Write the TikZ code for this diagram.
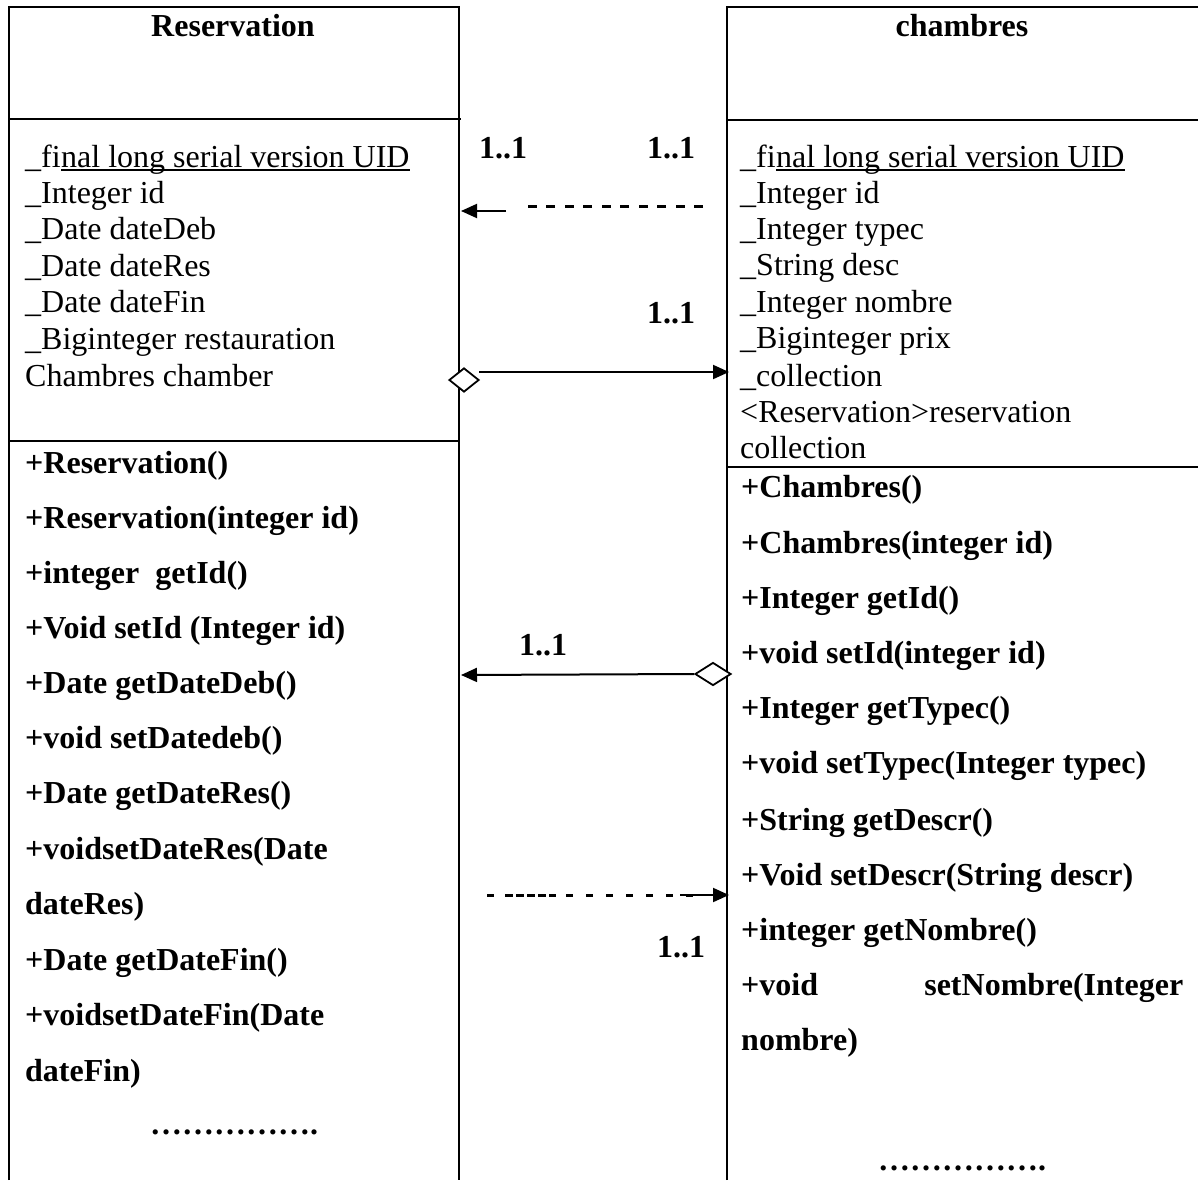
\documentclass[tikz,border=0pt]{standalone}
\usepackage{fontspec}
\setmainfont{Liberation Serif}
\usetikzlibrary{arrows.meta,shapes.geometric}
\begin{document}
\begin{tikzpicture}[x=1pt,y=-1pt,
  txt/.style={inner sep=0pt, anchor=base west, font=\fontsize{32}{37}\selectfont},
  btxt/.style={inner sep=0pt, anchor=base west, font=\fontsize{32}{37}\selectfont\bfseries},
  ttl/.style={inner sep=0pt, anchor=base, font=\fontsize{32}{37}\selectfont\bfseries},
  border/.style={line width=2pt},
  conn/.style={line width=2pt},
  dsh/.style={line width=3pt},
  tipL/.style={-{Triangle[length=16pt,width=14pt]}},
  agg/.style={diamond, draw, line width=1.8pt, fill=white, inner sep=0pt}
]
\useasboundingbox (0,0) rectangle (1198,1180);

% class boxes
\draw[border] (9,1180) -- (9,7) -- (459,7) -- (459,1180);
\draw[border] (9,119) -- (461,119);
\draw[border] (9,441) -- (459,441);
\draw[border] (727,1180) -- (727,7) -- (1198,7);
\draw[border] (727,120) -- (1198,120);
\draw[border] (727,467) -- (1198,467);

% titles
\node[ttl] (rtitle) at (233,37) {Reservation};
\node[ttl] (ctitle) at (962,37) {chambres};

% Reservation attributes
\node[txt] (ra1a) at (25,167) {\_fi};
\node[txt] (ra1b) at (ra1a.base east) {nal long serial version UID};
\draw[line width=1.6pt] ([yshift=-3pt]ra1b.base west) -- ([yshift=-3pt]ra1b.base east);
\node[txt] (ra2) at (25,203) {\_Integer id};
\node[txt] (ra3) at (25,239.5) {\_Date dateDeb};
\node[txt] (ra4) at (25,276) {\_Date dateRes};
\node[txt] (ra5) at (25,312.5) {\_Date dateFin};
\node[txt] (ra6) at (25,349) {\_Biginteger restauration};
\node[txt] (ra7) at (25,386) {Chambres chamber};

% Reservation methods
\node[btxt] (rm1) at (25,473) {+Reservation()};
\node[btxt] (rm2) at (25,528) {+Reservation(integer id)};
\node[btxt] (rm3) at (25,583) {+integer\ \ getId()};
\node[btxt] (rm4) at (25,638) {+Void setId (Integer id)};
\node[btxt] (rm5) at (25,693) {+Date getDateDeb()};
\node[btxt] (rm6) at (25,748) {+void setDatedeb()};
\node[btxt] (rm7) at (25,803) {+Date getDateRes()};
\node[btxt] (rm8) at (25,859) {+voidsetDateRes(Date};
\node[btxt] (rm9) at (25,914) {dateRes)};
\node[btxt] (rm10) at (25,970) {+Date getDateFin()};
\node[btxt] (rm11) at (25,1025) {+voidsetDateFin(Date};
\node[btxt] (rm12) at (25,1081) {dateFin)};
\node[ttl] (rdots) at (234,1134) {……………\kern0pt.};

% chambres attributes
\node[txt] (ca1a) at (740,167) {\_fi};
\node[txt] (ca1b) at (ca1a.base east) {nal long serial version UID};
\draw[line width=1.6pt] ([yshift=-3pt]ca1b.base west) -- ([yshift=-3pt]ca1b.base east);
\node[txt] (ca2) at (740,203) {\_Integer id};
\node[txt] (ca3) at (740,239) {\_Integer typec};
\node[txt] (ca4) at (740,275.5) {\_String desc};
\node[txt] (ca5) at (740,312) {\_Integer nombre};
\node[txt] (ca6) at (740,348.5) {\_Biginteger prix};
\node[txt] (ca7) at (740,386) {\_collection};
\node[txt] (ca8) at (740,422) {<Reservation>reservation};
\node[txt] (ca9) at (740,458) {collection};

% chambres methods
\node[btxt] (cm1) at (741,497) {+Chambres()};
\node[btxt] (cm2) at (741,553) {+Chambres(integer id)};
\node[btxt] (cm3) at (741,608) {+Integer getId()};
\node[btxt] (cm4) at (741,663) {+void setId(integer id)};
\node[btxt] (cm5) at (741,718) {+Integer getTypec()};
\node[btxt] (cm6) at (741,773) {+void setTypec(Integer typec)};
\node[btxt] (cm7) at (741,830) {+String getDescr()};
\node[btxt] (cm8) at (741,885) {+Void setDescr(String descr)};
\node[btxt] (cm9) at (741,940) {+integer getNombre()};
\node[btxt] (cm10) at (741,995) {\makebox[442pt][s]{+void setNombre(Integer}};
\node[btxt] (cm11) at (741,1050) {nombre)};
\node[ttl] (cdots) at (962,1170) {……………\kern0pt.};

% multiplicities
\node[btxt] (m1) at (479,158) {1..1};
\node[btxt] (m2) at (647,158) {1..1};
\node[btxt] (m3) at (647,323) {1..1};
\node[btxt] (m4) at (519,655) {1..1};
\node[btxt] (m5) at (657,957) {1..1};

% connector 1: dashed line + short arrow
\coordinate (d1a) at (703,206);
\coordinate (d1b) at (527,206);
\draw[dsh, dash pattern=on 9pt off 9.5pt] (d1a) -- (d1b);
\coordinate (a1s) at (506,211);
\coordinate (a1e) at (461,211);
\draw[conn, tipL] (a1s) -- (a1e);

% connector 2: aggregation Reservation -> chambres
\node[agg, minimum width=30pt, minimum height=24pt] (agg1) at (464,380) {};
\coordinate (a2s) at (479,372);
\coordinate (a2e) at (729,372);
\draw[conn, tipL] (a2s) -- (a2e);

% connector 3: aggregation chambres -> Reservation
\node[agg, minimum width=36pt, minimum height=23pt] (agg2) at (713,674) {};
\coordinate (a3e) at (461,675);
\draw[conn, tipL] (agg2.west) -- (a3e);

% connector 4: dashed arrow
\coordinate (d4a) at (487,895);
\coordinate (d4b) at (556,895);
\coordinate (d4c) at (566,895);
\coordinate (d4d) at (705,895);
\coordinate (d4s) at (680,895);
\coordinate (d4e) at (729,895);
\draw[dsh, dash pattern=on 7pt off 11pt on 8pt off 3pt on 8pt off 3pt on 8pt off 3pt on 8pt off 3pt on 9pt off 20pt] (d4a) -- (d4b);
\draw[dsh, dash pattern=on 7pt off 13pt] (d4c) -- (d4d);
\draw[conn, tipL] (d4s) -- (d4e);
\end{tikzpicture}
\end{document}
